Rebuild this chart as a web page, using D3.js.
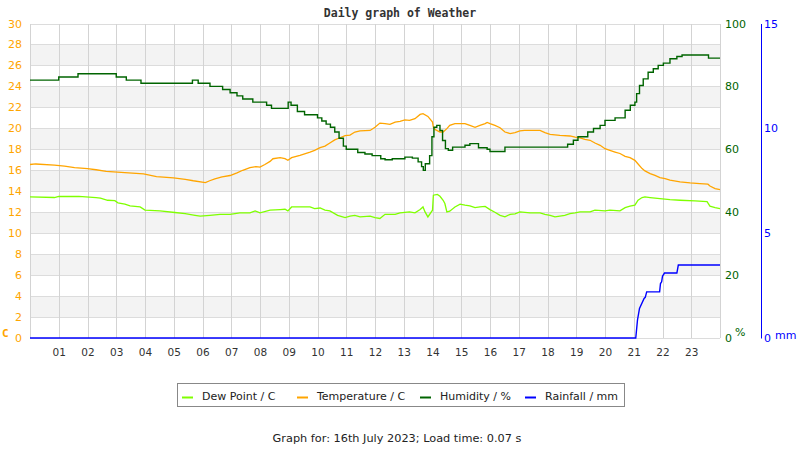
<!DOCTYPE html>
<html>
<head>
<meta charset="utf-8">
<script src="https://cdn.jsdelivr.net/npm/d3@7"></script>
<style>
  body { margin: 0; background: #fff; }
  text { font-family: "DejaVu Sans", sans-serif; }
</style>
</head>
<body>
<div id="chart"></div>
<script>
// readings for the day, [hour, value]
const dewPoint = [[0,13.46],[0.85,13.4],[1.0,13.5],[1.7,13.5],[2.3,13.4],[2.45,13.35],[2.7,13.14],[2.95,13.1],[3.06,12.9],[3.3,12.76],[3.48,12.6],[3.83,12.5],[4.0,12.2],[4.52,12.13],[5.04,11.97],[5.4,11.87],[5.74,11.7],[5.92,11.62],[6.26,11.7],[6.61,11.8],[6.96,11.8],[7.3,11.94],[7.65,11.94],[7.83,12.13],[8.0,11.94],[8.35,12.19],[8.7,12.25],[8.87,12.28],[8.97,12.13],[9.1,12.5],[9.39,12.5],[9.74,12.5],[9.9,12.35],[10.09,12.4],[10.26,12.19],[10.43,12.13],[10.7,11.7],[10.96,11.49],[11.13,11.62],[11.3,11.7],[11.48,11.55],[11.83,11.62],[12.0,11.49],[12.17,11.4],[12.35,11.8],[12.7,11.8],[12.87,11.94],[13.2,12.03],[13.39,11.94],[13.57,12.25],[13.67,12.5],[13.74,12.03],[13.84,11.55],[14.0,12.19],[14.03,13.62],[14.17,13.7],[14.26,13.52],[14.37,13.14],[14.43,12.83],[14.5,12.03],[14.6,12.1],[14.78,12.5],[14.96,12.76],[15.13,12.67],[15.3,12.6],[15.48,12.44],[15.65,12.5],[15.83,12.55],[16.0,12.25],[16.17,12.0],[16.35,11.7],[16.52,11.55],[16.7,11.8],[16.87,11.85],[17.04,12.03],[17.39,11.94],[17.74,11.94],[17.91,11.8],[18.09,11.7],[18.26,11.55],[18.43,11.62],[18.6,11.7],[18.78,11.87],[18.96,11.94],[19.13,12.03],[19.48,12.03],[19.65,12.19],[20.0,12.13],[20.17,12.19],[20.52,12.13],[20.7,12.44],[20.87,12.57],[21.04,12.67],[21.15,13.14],[21.29,13.4],[21.39,13.46],[21.57,13.4],[21.91,13.3],[22.26,13.2],[22.61,13.14],[23.13,13.08],[23.55,13.0],[23.65,12.57],[23.83,12.44],[24.0,12.35]]

const temperature = [[0,16.55],[0.2,16.6],[0.85,16.5],[1.2,16.4],[1.55,16.25],[2.0,16.15],[2.3,16.05],[2.65,15.9],[3.3,15.78],[3.95,15.65],[4.4,15.4],[4.99,15.27],[5.4,15.14],[5.68,15.0],[6.1,14.83],[6.25,15.0],[6.43,15.17],[6.68,15.36],[6.96,15.5],[7.2,15.75],[7.4,16.0],[7.65,16.25],[7.86,16.35],[8.0,16.3],[8.17,16.55],[8.35,16.85],[8.45,17.1],[8.7,17.2],[8.87,17.1],[8.97,16.95],[9.1,17.2],[9.39,17.43],[9.74,17.74],[9.9,17.9],[10.09,18.16],[10.26,18.3],[10.43,18.6],[10.6,18.9],[10.78,19.1],[10.96,19.3],[11.13,19.35],[11.3,19.65],[11.48,19.75],[11.83,19.8],[12.0,20.1],[12.17,20.5],[12.35,20.45],[12.52,20.38],[12.7,20.6],[12.87,20.67],[13.04,20.8],[13.2,20.76],[13.39,20.92],[13.57,21.33],[13.67,21.4],[13.84,21.14],[13.91,20.9],[14.0,20.6],[14.03,20.1],[14.1,19.87],[14.26,19.65],[14.37,19.65],[14.5,19.97],[14.6,20.28],[14.78,20.45],[15.13,20.45],[15.3,20.28],[15.48,20.1],[15.65,20.28],[15.83,20.45],[15.9,20.57],[16.0,20.45],[16.17,20.28],[16.35,20.06],[16.52,19.65],[16.7,19.5],[16.87,19.6],[17.04,19.75],[17.2,19.8],[17.74,19.8],[17.91,19.6],[18.09,19.43],[18.43,19.33],[18.78,19.27],[18.96,19.17],[19.13,19.1],[19.3,18.95],[19.48,18.86],[19.65,18.6],[19.83,18.38],[20.0,18.06],[20.17,17.9],[20.35,17.74],[20.52,17.6],[20.7,17.33],[20.87,17.2],[21.04,16.95],[21.15,16.6],[21.29,16.16],[21.39,15.94],[21.57,15.68],[21.74,15.52],[21.91,15.3],[22.09,15.2],[22.26,15.05],[22.61,14.9],[22.96,14.8],[23.3,14.73],[23.58,14.67],[23.65,14.5],[23.83,14.25],[24.0,14.16]]

// humidity changes in whole-ish steps, [hour it starts, %]
const humidity = [[0,82],[1.0,83],[1.67,84],[3.0,83],[3.35,82],[3.86,81],[5.65,82],[5.85,81],[6.26,80],[6.7,79],[6.96,78],[7.2,77],[7.4,76],[7.75,75],[8.23,74],[8.4,73],[8.98,75],[9.08,74],[9.3,72],[9.55,71],[10.0,70],[10.15,69],[10.3,68],[10.45,67],[10.6,65.5],[10.75,63.5],[10.9,61],[11.0,60],[11.4,59],[11.65,58.5],[11.9,58],[12.2,57],[12.35,56.7],[12.6,57],[13.04,57.5],[13.3,57.2],[13.5,56],[13.62,54.5],[13.68,53.3],[13.75,55.4],[13.9,58],[13.98,64],[14.05,67],[14.15,67.6],[14.26,66],[14.35,62.8],[14.45,60.2],[14.55,59.7],[14.7,60.7],[15.13,61.3],[15.3,61.8],[15.6,60.5],[15.9,60],[16.0,59.3],[16.52,60.7],[18.7,61.6],[18.9,62.9],[19.06,64],[19.4,65.5],[19.6,66.6],[19.83,67.6],[20.0,69.2],[20.35,70],[20.7,72.4],[20.88,74],[21.04,75],[21.1,77.7],[21.2,80.3],[21.33,82.4],[21.5,84.5],[21.68,85.6],[21.85,86.7],[22.03,87.4],[22.26,88.8],[22.5,89.5],[22.68,90],[23.6,89],[24,89]]

const rainfall = [[0,0],[21.07,0],[21.13,0.86],[21.2,1.41],[21.36,1.89],[21.4,1.94],[21.45,2.2],[21.9,2.2],[21.93,2.6],[21.97,2.68],[22.0,2.95],[22.07,3.1],[22.5,3.1],[22.55,3.48],[24,3.48]]

const hourTicks = d3.range(1, 24)
const tempTicks = d3.range(0, 31, 2)
const humTicks = [0, 20, 40, 60, 80, 100]
const rainTicks = [0, 5, 10, 15]

const legendItems = [
  {name: 'Dew Point / C', color: '#7fff00'},
  {name: 'Temperature / C', color: '#ffa500'},
  {name: 'Humidity / %', color: '#006400'},
  {name: 'Rainfall / mm', color: '#0000ff'}
]

const W = 800, H = 450
const plot = {left: 30, right: 720, top: 23.5, bottom: 338}

const svg = d3.select('#chart').append('svg')
  .attr('width', W)
  .attr('height', H)

const x = d3.scaleLinear().domain([0, 24]).range([plot.left, plot.right])
const yT = d3.scaleLinear().domain([0, 30]).range([plot.bottom, plot.top])
const yH = d3.scaleLinear().domain([0, 100]).range([plot.bottom, plot.top])
const yR = d3.scaleLinear().domain([0, 15]).range([plot.bottom, plot.top])

// title
svg.append('text')
  .attr('x', 400).attr('y', 17)
  .attr('text-anchor', 'middle')
  .style('font-family', '"DejaVu Sans Mono", monospace')
  .style('font-weight', 'bold')
  .style('font-size', '11.5px')
  .attr('fill', '#333')
  .text('Daily graph of Weather')

// shaded bands every other 2 degrees
const grid = svg.append('g').attr('shape-rendering', 'crispEdges')
grid.selectAll('rect.band')
  .data(d3.range(2, 30, 4))
  .join('rect')
  .attr('class', 'band')
  .attr('x', plot.left)
  .attr('width', plot.right - plot.left)
  .attr('y', d => yT(d + 2))
  .attr('height', d => yT(d) - yT(d + 2))
  .attr('fill', '#f3f3f3')

grid.selectAll('line.h')
  .data(tempTicks)
  .join('line')
  .attr('class', 'h')
  .attr('x1', plot.left).attr('x2', plot.right)
  .attr('y1', d => Math.round(yT(d)) + 0.5).attr('y2', d => Math.round(yT(d)) + 0.5)
  .attr('stroke', '#dcdcdc')

grid.selectAll('line.v')
  .data(d3.range(0, 25))
  .join('line')
  .attr('class', 'v')
  .attr('x1', d => Math.round(x(d)) + 0.5).attr('x2', d => Math.round(x(d)) + 0.5)
  .attr('y1', plot.top).attr('y2', plot.bottom)
  .attr('stroke', '#d3d3d3')

// left axis (temperature)
const leftAx = svg.append('g')
  .attr('transform', 'translate(' + plot.left + ',0)')
  .call(d3.axisLeft(yT).tickValues(tempTicks).tickSize(0).tickPadding(8))
leftAx.select('.domain').remove()
leftAx.selectAll('text')
  .attr('fill', '#ffa500')
  .style('font-size', '11px')
  .style('font-family', '"DejaVu Sans", sans-serif')

// hours
const bottomAx = svg.append('g')
  .attr('transform', 'translate(0,' + plot.bottom + ')')
  .call(d3.axisBottom(x).tickValues(hourTicks).tickSize(0).tickPadding(11)
    .tickFormat(d => d3.format('02d')(d)))
bottomAx.select('.domain').remove()
bottomAx.selectAll('text')
  .attr('fill', '#333')
  .style('font-size', '10.5px')
  .style('font-family', '"DejaVu Sans", sans-serif')

// right axis (humidity)
const humAx = svg.append('g')
  .attr('transform', 'translate(' + plot.right + ',0)')
  .call(d3.axisRight(yH).tickValues(humTicks).tickSize(0).tickPadding(5))
humAx.select('.domain').remove()
humAx.selectAll('text')
  .attr('fill', '#006400')
  .style('font-size', '11px')
  .style('font-family', '"DejaVu Sans", sans-serif')

// far right axis (rain)
const rainAx = svg.append('g')
  .attr('transform', 'translate(761,0)')
  .call(d3.axisRight(yR).tickValues(rainTicks).tickSize(0).tickPadding(3))
rainAx.select('.domain').attr('stroke', '#0000ff')
rainAx.selectAll('text')
  .attr('fill', '#0000ff')
  .style('font-size', '11px')
  .style('font-family', '"DejaVu Sans", sans-serif')

// unit labels
svg.append('text').attr('x', 2).attr('y', 337)
  .style('font-family', '"DejaVu Sans Mono", monospace').style('font-weight', 'bold')
  .style('font-size', '11px').attr('fill', '#ffa500').text('C')
svg.append('text').attr('x', 735).attr('y', 336)
  .style('font-size', '11px').attr('fill', '#006400').text('%')
svg.append('text').attr('x', 775).attr('y', 339)
  .style('font-size', '11px').attr('fill', '#0000ff').text('mm')

// series
const lines = svg.append('g')
const lineT = d3.line().x(d => x(d[0])).y(d => yT(d[1]))

lines.append('path')
  .datum(dewPoint)
  .attr('d', lineT)
  .attr('fill', 'none').attr('stroke', '#7fff00').attr('stroke-width', 1.3)

lines.append('path')
  .datum(temperature)
  .attr('d', lineT)
  .attr('fill', 'none').attr('stroke', '#ffa500').attr('stroke-width', 1.3)

lines.append('path')
  .datum(humidity)
  .attr('d', d3.line().curve(d3.curveStepAfter).x(d => x(d[0])).y(d => yH(d[1])))
  .attr('fill', 'none').attr('stroke', '#006400').attr('stroke-width', 1.4)

lines.append('path')
  .datum(rainfall)
  .attr('d', d3.line().x(d => x(d[0])).y(d => yR(d[1])))
  .attr('fill', 'none').attr('stroke', '#0000ff').attr('stroke-width', 1.4)

// legend
const legend = svg.append('g')
legend.append('rect')
  .attr('x', 177.5).attr('y', 383.5)
  .attr('width', 447).attr('height', 23)
  .attr('fill', '#fff').attr('stroke', '#888')

const legendX = [182, 297, 420, 525]
const item = legend.selectAll('g.item')
  .data(legendItems)
  .join('g')
  .attr('class', 'item')
  .attr('transform', (d, i) => 'translate(' + legendX[i] + ',0)')
item.append('line')
  .attr('x1', 0).attr('x2', 11)
  .attr('y1', 397.5).attr('y2', 397.5)
  .attr('stroke', d => d.color).attr('stroke-width', 2)
item.append('text')
  .attr('x', 20).attr('y', 400)
  .style('font-size', '11px')
  .attr('fill', '#222')
  .text(d => d.name)

svg.append('text')
  .attr('x', 397).attr('y', 442)
  .attr('text-anchor', 'middle')
  .style('font-size', '11.3px')
  .attr('fill', '#222')
  .text('Graph for: 16th July 2023; Load time: 0.07 s')
</script>
</body>
</html>
